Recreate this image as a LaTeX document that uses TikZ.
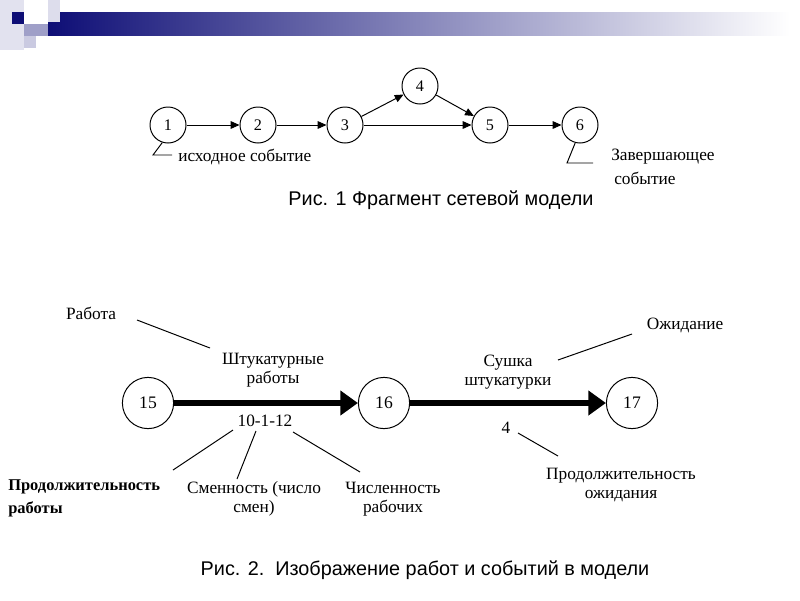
\documentclass[tikz,border=0pt]{standalone}
\usepackage{fontspec}
\setmainfont{Liberation Serif}
\setsansfont{Liberation Sans}
\usetikzlibrary{arrows.meta,positioning}
\definecolor{slideNavy}{RGB}{14,14,118}
\tikzset{
  evsmall/.style={circle, draw, line width=0.7pt, minimum size=9mm,
                  inner sep=0pt, font=\fontsize{11.5}{12}\selectfont},
  evbig/.style  ={circle, draw, line width=0.7pt, minimum size=12.8mm,
                  inner sep=0pt, font=\fontsize{12.5}{13}\selectfont},
  thinarc/.style ={-{Triangle[length=2.2mm, width=1.9mm]}, line width=0.7pt},
  thickarc/.style={-{Triangle[length=4.4mm, width=6mm]}, line width=3.6pt},
  leader/.style  ={line width=0.7pt},
  lbl/.style     ={font=\fontsize{12.3}{13.5}\selectfont, align=center, inner sep=0pt},
  figcap/.style  ={font=\sffamily\fontsize{14.1}{16}\selectfont, inner sep=0pt},
}

\begin{document}
\begin{tikzpicture}[x=0.025cm, y=-0.025cm]
\useasboundingbox (0,0) rectangle (800,600);
% slide header
\fill[slideNavy!12] (0,0) rectangle (24,50);
\shade[left color=slideNavy, middle color=slideNavy!55, right color=white] (48,12) rectangle (790,35);
\fill[slideNavy!14] (48,0) rectangle (60,22);
\fill[slideNavy] (12,12) rectangle (24,24);
\fill[slideNavy!40] (24,24) rectangle (48,36);
\fill[slideNavy!22] (24,36) rectangle (36,48);

% Fig. 1
\node[evsmall] (n1) at (168,125) {1};
\node[evsmall] (n2) at (258,125) {2};
\node[evsmall] (n3) at (345,125) {3};
\node[evsmall] (n4) at (420,86)  {4};
\node[evsmall] (n5) at (490,125) {5};
\node[evsmall] (n6) at (580,125) {6};
\draw[thinarc] (n1) -- (n2);
\draw[thinarc] (n2) -- (n3);
\draw[thinarc] (n3) -- (n4);
\draw[thinarc] (n4) -- (n5);
\draw[thinarc] (n3) -- (n5);
\draw[thinarc] (n5) -- (n6);
\node[lbl, anchor=west] (srcText) at (178,157) {исходное событие};
\coordinate (srcBend) at (153,155);
\coordinate (srcEnd) at (172,155);
\draw[leader] (n1.-108) -- (srcBend) -- (srcEnd);
\node[lbl, anchor=west] (endTextA) at (611,157) {Завершающее};
\node[lbl, anchor=west] (endTextB) at (614,178) {событие};
\coordinate (endBend) at (567,163);
\coordinate (endEnd) at (593,163);
\draw[leader] (n6.-105) -- (endBend) -- (endEnd);
\node[figcap] (cap1) at (441,200) {Рис. 1 Фрагмент сетевой модели};

% Fig. 2
\node[evbig] (n15) at (148,403) {15};
\node[evbig] (n16) at (384,403) {16};
\node[evbig] (n17) at (632,403) {17};
\draw[thickarc] (n15) -- (n16);
\draw[thickarc] (n16) -- (n17);
\node[lbl] (work) at (91,313) {Работа};
\node[lbl] (workName) at (273,370) {Штукатурные\\работы};
\node[lbl] (workCode) at (265,421) {10-1-12};
\node[lbl] (dry) at (508,372) {Сушка\\штукатурки};
\node[lbl] (wait) at (685,325) {Ожидание};
\node[lbl] (waitDur) at (506,428) {4};
\node[lbl] (waitText) at (621,485) {Продолжительность\\ожидания};
\node[lbl, anchor=west, align=left, font=\bfseries\fontsize{11.7}{16.3}\selectfont] (durText) at (8,498) {Продолжительность\\работы};
\node[lbl] (shiftText) at (254,499) {Сменность (число\\смен)};
\node[lbl] (crewText) at (393,499) {Численность\\рабочих};
\coordinate (workA) at (137,320);  \coordinate (workB) at (210,348);
\coordinate (waitA) at (558,360);  \coordinate (waitB) at (632,334);
\coordinate (codeA) at (233,430);  \coordinate (durB) at (173,470);
\coordinate (codeB) at (256,431);  \coordinate (shiftB) at (237,479);
\coordinate (codeC) at (293,432);  \coordinate (crewB) at (360,472);
\coordinate (fourA) at (518,433);  \coordinate (waitTextB) at (558,456);
\draw[leader] (workA) -- (workB);
\draw[leader] (waitA) -- (waitB);
\draw[leader] (codeA) -- (durB);
\draw[leader] (codeB) -- (shiftB);
\draw[leader] (codeC) -- (crewB);
\draw[leader] (fourA) -- (waitTextB);
\node[figcap] (cap2) at (425,570) {Рис. 2.\ \ Изображение работ и событий в модели};
\end{tikzpicture}
\end{document}
